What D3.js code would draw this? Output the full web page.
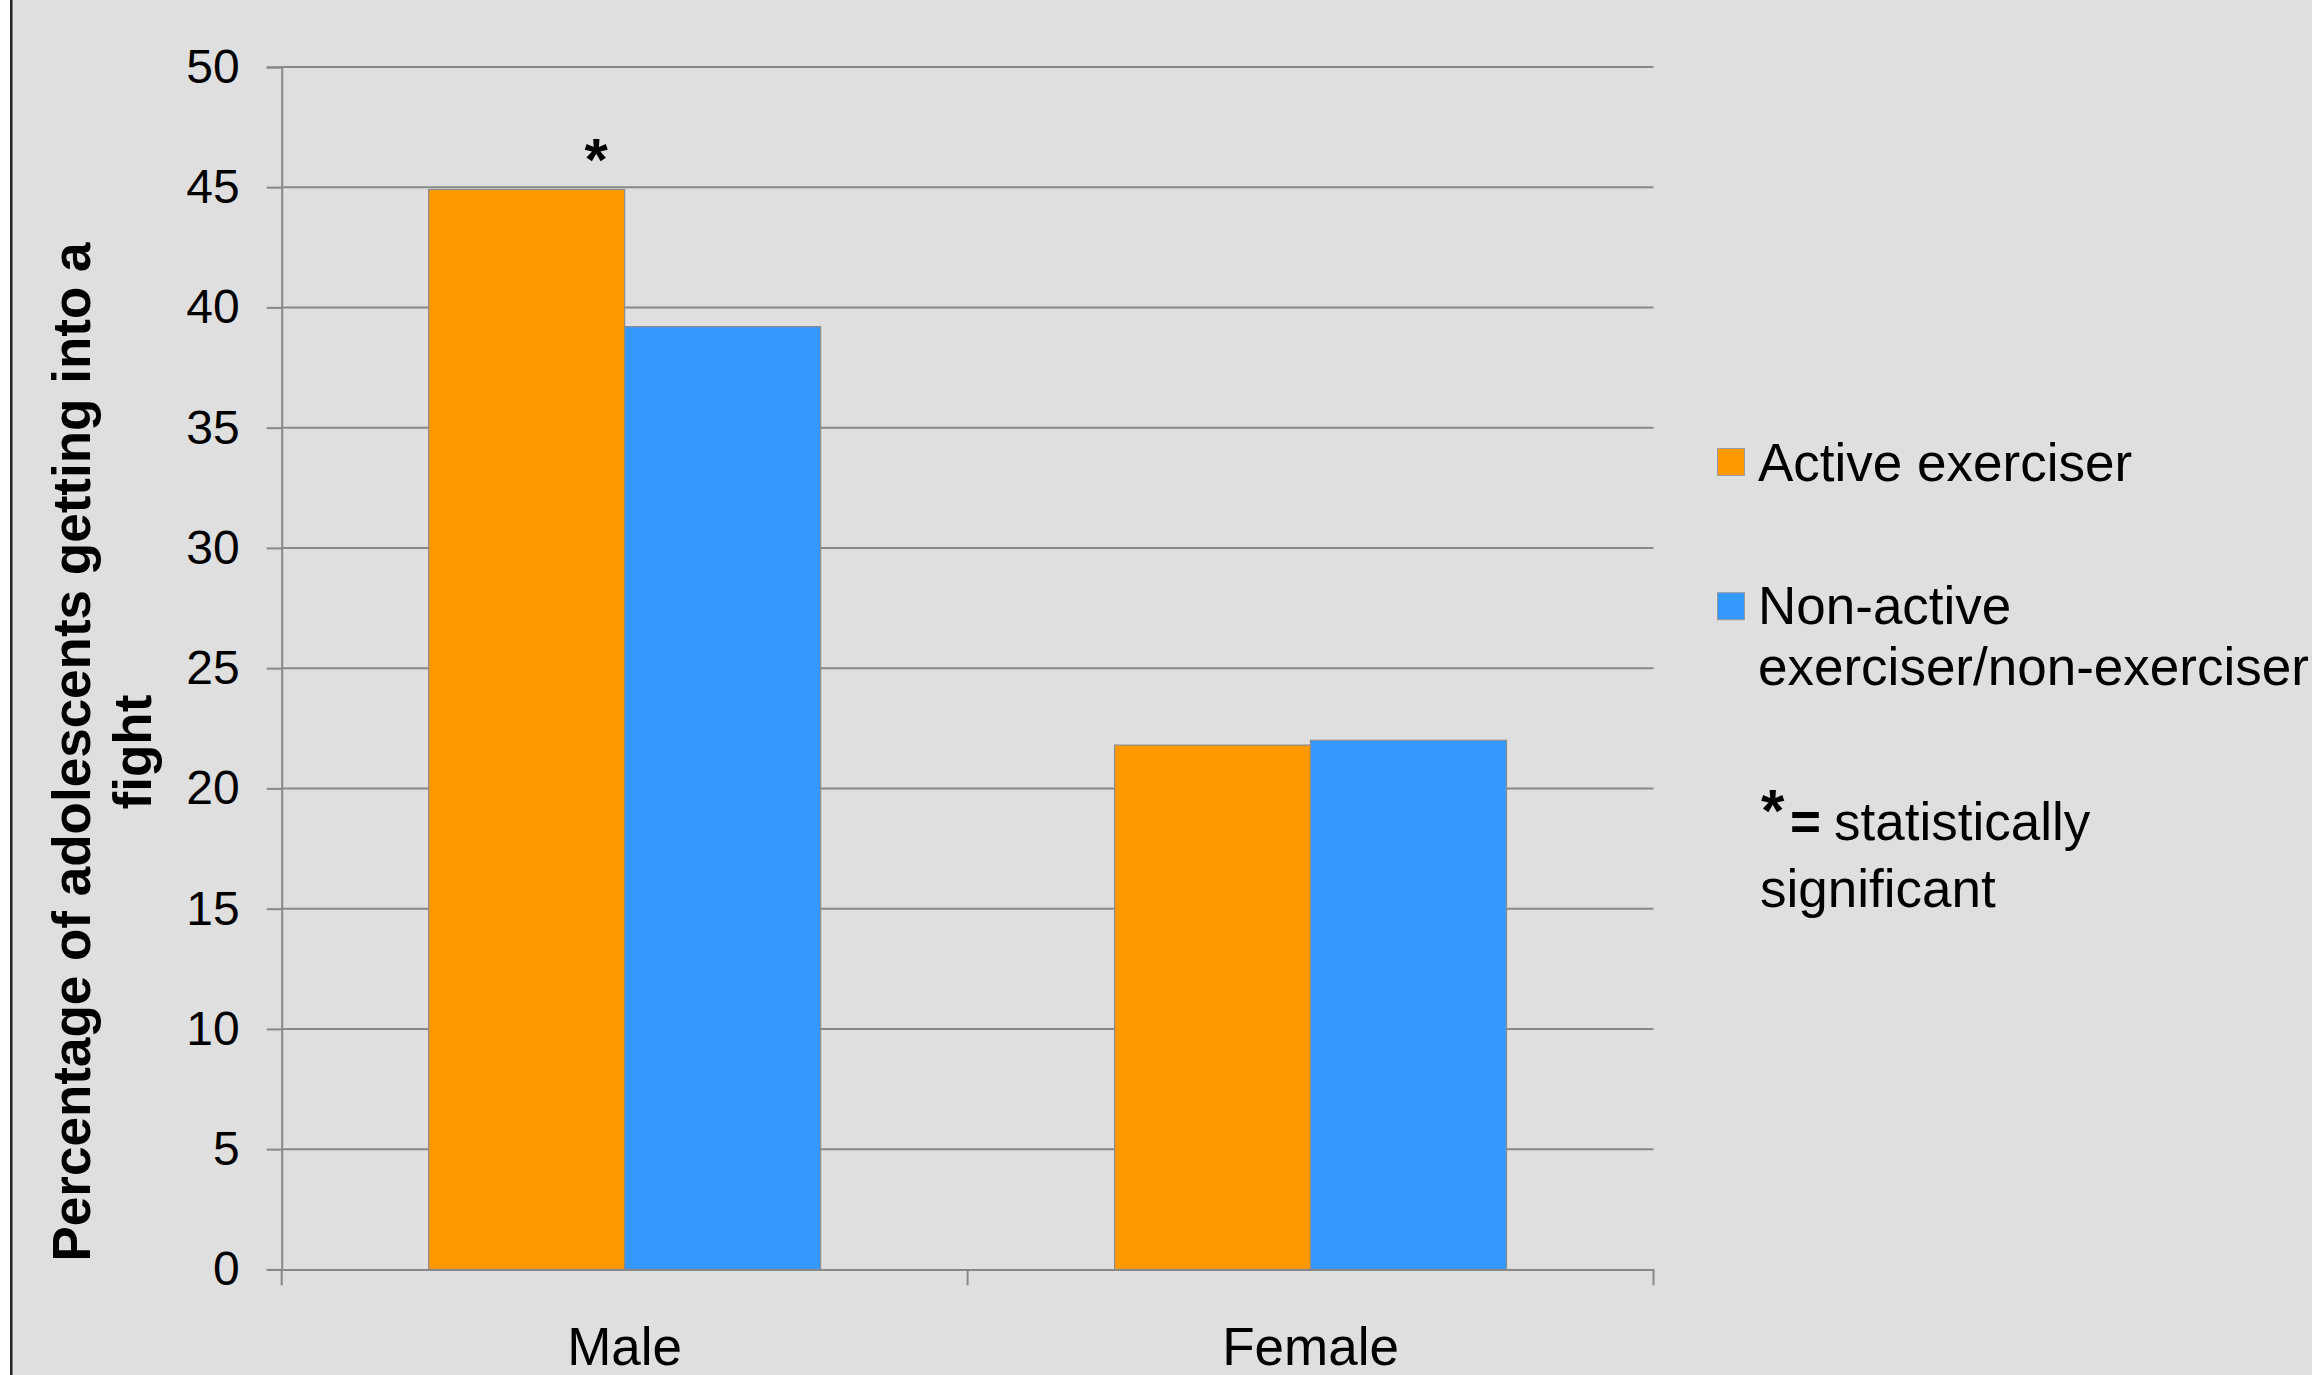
<!DOCTYPE html>
<html>
<head>
<meta charset="utf-8">
<script src="https://cdn.jsdelivr.net/npm/d3@7"></script>
<style>
  html, body { margin: 0; padding: 0; background: #dfdfdf; }
  svg { display: block; }
  text { font-family: "Liberation Sans", Arial, sans-serif; fill: #000; }
</style>
</head>
<body>
<svg id="chart" width="2312" height="1375"></svg>
<script>
// Share of adolescents getting into a fight, by sex and exercise status
const categories = ["Male", "Female"];
const seriesNames = ["Active exerciser", "Non-active exerciser/non-exerciser"];
const activeValues = [44.9, 21.8];
const nonActiveValues = [39.2, 22.0];
const yTicks = [0, 5, 10, 15, 20, 25, 30, 35, 40, 45, 50];
const significant = ["Male"]; // groups flagged with *
const colors = ["#ff9900", "#3399ff"];

const W = 2312, H = 1375;
const plot = { left: 281.7, right: 1653.5, top: 66.9, bottom: 1269.4 };

const svg = d3.select("#chart");

// slide background with left frame edge
svg.append("rect").attr("x", 0).attr("y", 0).attr("width", W).attr("height", H).attr("fill", "#dfdfdf");
svg.append("rect").attr("x", 0).attr("y", 0).attr("width", 10).attr("height", H).attr("fill", "#ffffff");
svg.append("rect").attr("x", 10).attr("y", 0).attr("width", 2.5).attr("height", H).attr("fill", "#222");

const y = d3.scaleLinear().domain([0, 50]).range([plot.bottom, plot.top]);
const x0 = d3.scaleBand().domain(categories).range([plot.left, plot.right]).paddingInner(0).paddingOuter(0);
const barW = x0.bandwidth() / 3.5;
const x1 = d3.scaleBand().domain(seriesNames)
  .range([barW * 0.75, barW * 0.75 + barW * 2]).padding(0);

// y axis with outside ticks
const yAxis = d3.axisLeft(y).tickValues(yTicks).tickSize(15).tickPadding(27)
  .tickFormat(d3.format("d"));
const yG = svg.append("g").attr("transform", `translate(${plot.left},0)`).call(yAxis);
yG.select(".domain").attr("stroke", "#888").attr("stroke-width", 2);
yG.selectAll(".tick line").attr("stroke", "#888").attr("stroke-width", 2);
yG.selectAll(".tick text").attr("font-size", 48).attr("font-family", "Liberation Sans, Arial, sans-serif").attr("fill", "#000");

// horizontal gridlines
svg.append("g").selectAll("line").data(yTicks.filter(d => d > 0)).join("line")
  .attr("x1", plot.left).attr("x2", plot.right)
  .attr("y1", d => y(d)).attr("y2", d => y(d))
  .attr("stroke", "#888").attr("stroke-width", 2);

// bars
const rows = categories.map((c, i) => ({ cat: c, values: [activeValues[i], nonActiveValues[i]] }));
const groups = svg.append("g").selectAll("g").data(rows).join("g")
  .attr("transform", d => `translate(${x0(d.cat)},0)`);
groups.selectAll("rect")
  .data(d => d.values.map((v, j) => ({ name: seriesNames[j], v, j })))
  .join("rect")
  .attr("x", d => x1(d.name))
  .attr("width", x1.bandwidth())
  .attr("y", d => y(d.v))
  .attr("height", d => y(0) - y(d.v))
  .attr("fill", d => colors[d.j])
  .attr("stroke", "#8c8c8c").attr("stroke-width", 1.2);

// significance marker above the active bar
svg.append("g").selectAll("text").data(significant).join("text")
  .attr("x", d => x0(d) + x1(seriesNames[0]) + x1.bandwidth() * 0.855)
  .attr("y", d => y(activeValues[categories.indexOf(d)]) - 10)
  .attr("text-anchor", "middle")
  .attr("font-size", 60).attr("font-weight", "bold")
  .text("*");

// x axis
const xAxis = d3.axisBottom(x0).tickSize(0).tickFormat("");
const xG = svg.append("g").attr("transform", `translate(0,${plot.bottom})`).call(xAxis);
xG.select(".domain").attr("stroke", "#888").attr("stroke-width", 2);
const bounds = [plot.left, ...categories.map(c => x0(c) + x0.bandwidth())];
svg.append("g").selectAll("line").data(bounds).join("line")
  .attr("x1", d => d).attr("x2", d => d)
  .attr("y1", plot.bottom).attr("y2", plot.bottom + 16)
  .attr("stroke", "#888").attr("stroke-width", 2);
svg.append("g").selectAll("text").data(categories).join("text")
  .attr("x", d => x0(d) + x0.bandwidth() / 2)
  .attr("y", 1365)
  .attr("text-anchor", "middle")
  .attr("font-size", 53)
  .text(d => d);

// y axis title
const yTitle = svg.append("text")
  .attr("transform", "translate(90,752) rotate(-90)")
  .attr("text-anchor", "middle")
  .attr("font-size", 53).attr("font-weight", "bold");
yTitle.append("tspan").attr("x", 0).attr("y", 0).text("Percentage of adolescents getting into a");
yTitle.append("tspan").attr("x", 0).attr("y", 61).text("fight");

// legend
const legend = svg.append("g");
const legendRows = [
  { lines: ["Active exerciser"], top: 448.5, base: 480.7 },
  { lines: ["Non-active", "exerciser/non-exerciser"], top: 592.7, base: 624 }
];
legendRows.forEach((r, i) => {
  legend.append("rect").attr("x", 1717.5).attr("y", r.top).attr("width", 27).attr("height", 27)
    .attr("fill", colors[i]).attr("stroke", "#999").attr("stroke-width", 1);
  const t = legend.append("text").attr("font-size", 53);
  r.lines.forEach((ln, k) => {
    t.append("tspan").attr("x", 1758).attr("y", r.base + k * 61).text(ln);
  });
});

// note explaining the asterisk
legend.append("text").attr("x", 1761).attr("y", 831).attr("font-size", 60).attr("font-weight", "bold").text("*");
legend.append("text").attr("x", 1790).attr("y", 839.5).attr("font-size", 53).attr("font-weight", "bold").text("=");
legend.append("text").attr("x", 1834).attr("y", 839.5).attr("font-size", 53).text("statistically");
legend.append("text").attr("x", 1760).attr("y", 907).attr("font-size", 53).text("significant");
</script>
</body>
</html>
